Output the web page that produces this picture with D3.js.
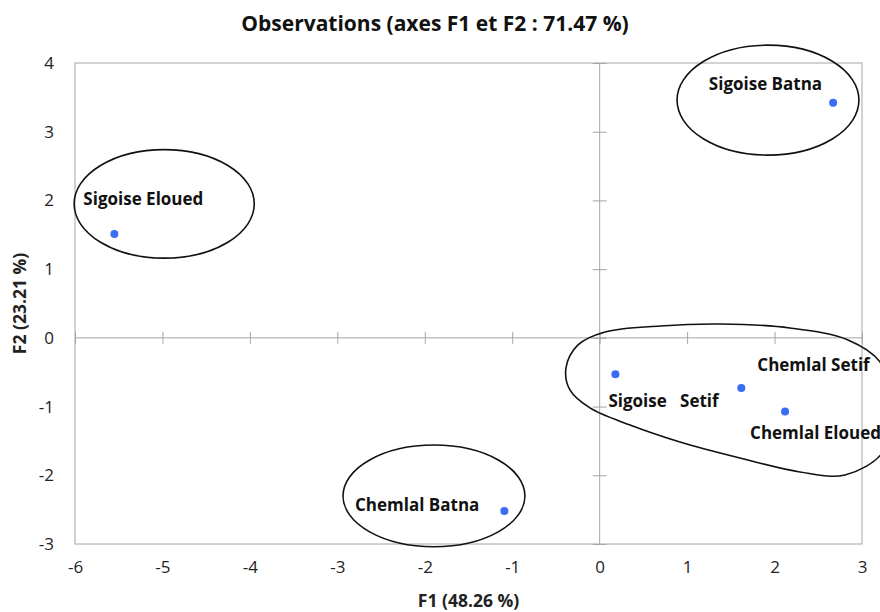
<!DOCTYPE html>
<html>
<head>
<meta charset="utf-8">
<script src="https://cdn.jsdelivr.net/npm/d3@7"></script>
<style>
	body { margin: 0; background: #fff; }
	svg { font-family: "Open Sans", sans-serif; }
	.tick text { fill: #222; font-size: 17px; font-family: "Open Sans", sans-serif; }
	.lbl { font-weight: bold; font-size: 17px; fill: #111; }
</style>
</head>
<body>
<div class="chart"></div>
<script>
var names = ["Sigoise Batna", "Sigoise Eloued", "Sigoise   Setif", "Chemlal Setif", "Chemlal Eloued", "Chemlal Batna"];
var f1 = [2.67, -5.55, 0.18, 1.62, 2.12, -1.09];
var f2 = [3.42, 1.51, -0.53, -0.73, -1.07, -2.52];
// label offsets in px relative to the point
var labelDx = [-11, -31, -7, 16, -35, -25];
var labelDy = [-13, -29, 33, -17, 28, 0];
var labelAnchor = ["end", "start", "start", "start", "start", "end"];

var xTicks = [-6, -5, -4, -3, -2, -1, 0, 1, 2, 3];
var yTicks = [-3, -2, -1, 0, 1, 2, 3, 4];

// group ellipses: center and radii in axis units
var ellCx = [1.925, -4.98, -1.895];
var ellCy = [3.46, 1.95, -2.30];
var ellRx = [1.04, 1.03, 1.04];
var ellRy = [0.80, 0.79, 0.74];

// outline around the Setif / Chemlal Eloued group
var blobX = [-0.385, -0.248, 0.061, 0.690, 1.376, 2.176, 2.84, 3.205, 3.343, 3.24, 2.805, 2.290, 1.604, 0.918, 0.347, -0.111, -0.340];
var blobY = [-0.438, -0.103, 0.086, 0.173, 0.202, 0.144, -0.03, -0.35, -0.977, -1.66, -1.995, -1.951, -1.748, -1.515, -1.268, -1.020, -0.758];

var pts = names.map(function(n, i){
	return {name: n, x: f1[i], y: f2[i], dx: labelDx[i], dy: labelDy[i], anchor: labelAnchor[i]};
});

var width = 880, height = 612;
var margin = {top: 63, right: 18, bottom: 68, left: 75};

var svg = d3.select(".chart").append("svg")
	.attr("width", width)
	.attr("height", height);

var x = d3.scaleLinear().domain([-6, 3]).range([margin.left, width - margin.right]);
var y = d3.scaleLinear().domain([-3, 4]).range([height - margin.bottom, margin.top]);

// plot frame
svg.append("rect")
	.attr("x", x(-6)).attr("y", y(4))
	.attr("width", x(3) - x(-6)).attr("height", y(-3) - y(4))
	.attr("fill", "none").attr("stroke", "#a6a6a6");

// zero axes with crossing ticks
var xZero = svg.append("g")
	.attr("transform", "translate(0," + (y(0) - 6) + ")")
	.call(d3.axisBottom(x).tickValues(xTicks).tickSize(12).tickFormat(""));
var yZero = svg.append("g")
	.attr("transform", "translate(" + (x(0) + 7) + ",0)")
	.call(d3.axisLeft(y).tickValues(yTicks).tickSize(14).tickFormat(""));
[xZero, yZero].forEach(function(g){
	g.select(".domain").remove();
	g.selectAll("line").attr("stroke", "#a6a6a6");
});
svg.append("line")
	.attr("x1", x(-6)).attr("x2", x(3)).attr("y1", y(0)).attr("y2", y(0))
	.attr("stroke", "#a6a6a6");
svg.append("line")
	.attr("x1", x(0)).attr("x2", x(0)).attr("y1", y(4)).attr("y2", y(-3))
	.attr("stroke", "#a6a6a6");

// tick labels at the frame
var fmt = function(d){ return String(d); };
var xLab = svg.append("g")
	.attr("transform", "translate(0," + (y(-3) + 11) + ")")
	.call(d3.axisBottom(x).tickValues(xTicks).tickSize(0).tickFormat(fmt));
var yLab = svg.append("g")
	.attr("transform", "translate(" + (x(-6) - 18) + ",0)")
	.call(d3.axisLeft(y).tickValues(yTicks).tickSize(0).tickFormat(fmt));
[xLab, yLab].forEach(function(g){ g.select(".domain").remove(); });
xLab.selectAll("text").attr("dy", "0.9em");
yLab.selectAll("text").attr("dx", "0");

// ellipses
svg.selectAll(".ell").data(ellCx).enter().append("ellipse")
	.attr("class", "ell")
	.attr("cx", function(d){ return x(d); })
	.attr("cy", function(d, i){ return y(ellCy[i]); })
	.attr("rx", function(d, i){ return x(ellRx[i]) - x(0); })
	.attr("ry", function(d, i){ return y(0) - y(ellRy[i]); })
	.attr("fill", "none").attr("stroke", "#111").attr("stroke-width", 1.6);

var blob = blobX.map(function(d, i){ return [d, blobY[i]]; });
svg.append("path")
	.datum(blob)
	.attr("d", d3.line().x(function(d){ return x(d[0]); }).y(function(d){ return y(d[1]); }).curve(d3.curveCatmullRomClosed))
	.attr("fill", "none").attr("stroke", "#111").attr("stroke-width", 1.6);

// points and labels
svg.selectAll(".pt").data(pts).enter().append("circle")
	.attr("class", "pt")
	.attr("cx", function(d){ return x(d.x); })
	.attr("cy", function(d){ return y(d.y); })
	.attr("r", 4)
	.attr("fill", "#3a6cf4");

svg.selectAll(".lbl").data(pts).enter().append("text")
	.attr("class", "lbl")
	.attr("x", function(d){ return x(d.x) + d.dx; })
	.attr("y", function(d){ return y(d.y) + d.dy; })
	.attr("text-anchor", function(d){ return d.anchor; })
	.style("white-space", "pre")
	.text(function(d){ return d.name; });

// titles
svg.append("text")
	.attr("x", 435).attr("y", 31)
	.attr("text-anchor", "middle")
	.style("font-weight", "bold").style("font-size", "21px").attr("fill", "#111")
	.text("Observations (axes F1 et F2 : 71.47 %)");

svg.append("text")
	.attr("x", (x(-6) + x(3)) / 2).attr("y", 607)
	.attr("text-anchor", "middle")
	.style("font-weight", "bold").style("font-size", "17.5px").attr("fill", "#222")
	.text("F1 (48.26 %)");

svg.append("text")
	.attr("transform", "translate(26," + ((y(4) + y(-3)) / 2) + ") rotate(-90)")
	.attr("text-anchor", "middle")
	.style("font-weight", "bold").style("font-size", "17.5px").attr("fill", "#222")
	.text("F2 (23.21 %)");
</script>
</body>
</html>
